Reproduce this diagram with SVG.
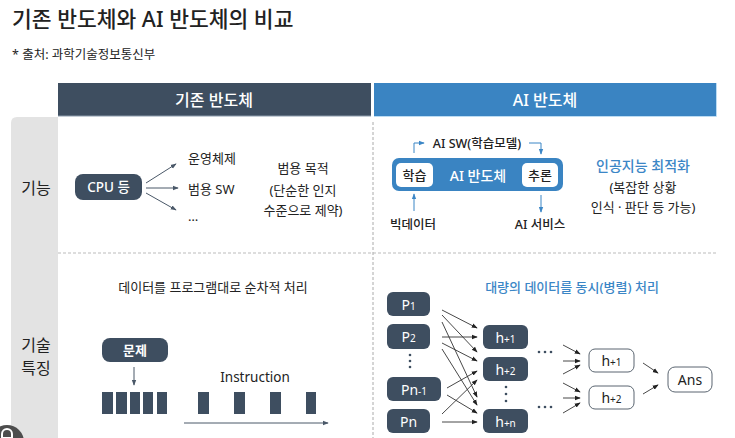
<svg xmlns="http://www.w3.org/2000/svg" width="735" height="438" viewBox="0 0 735 438">
<defs>
<style>
text{font-family:"Noto Sans","Noto Sans CJK KR",sans-serif;fill:#222;}
.c{text-anchor:middle;}
.w{fill:#fff;}
.b{fill:#3b86c6;}
.dark{fill:#3e4e60;}
.ln{stroke:#333;stroke-width:0.9;fill:none;marker-end:url(#ah);}
.lb{stroke:#3b86c6;stroke-width:1;fill:none;marker-end:url(#ahb);}
.lg{stroke:#4a5868;stroke-width:1;fill:none;marker-end:url(#ahg);}
.wb{fill:#fff;stroke:#5a6570;stroke-width:1;}
.bar{fill:#3e4e60;}
</style>
<marker id="ah" viewBox="0 0 8 8" refX="7" refY="4" markerWidth="6" markerHeight="6" orient="auto" markerUnits="userSpaceOnUse"><path d="M0,1 L8,4 L0,7 Z" fill="#222"/></marker>
<marker id="ahb" viewBox="0 0 8 8" refX="7" refY="4" markerWidth="6" markerHeight="6" orient="auto" markerUnits="userSpaceOnUse"><path d="M0,1 L8,4 L0,7 Z" fill="#3b86c6"/></marker>
<marker id="ahg" viewBox="0 0 8 8" refX="7" refY="4" markerWidth="6" markerHeight="6" orient="auto" markerUnits="userSpaceOnUse"><path d="M0,1 L8,4 L0,7 Z" fill="#4a5868"/></marker>
</defs>
<rect width="735" height="438" fill="#fff"/>

<g id="title">
<text x="12" y="27" font-size="21.5" font-weight="500" fill="#111">기존 반도체와 AI 반도체의 비교</text>
<text x="12" y="59" font-size="12.5">* 출처: 과학기술정보통신부</text>
</g>

<g id="headers">
<rect x="58" y="83" width="313" height="33" fill="#3e4e60"/>
<line x1="58" y1="116" x2="371" y2="116" stroke="#8a9aab" stroke-width="1"/>
<text x="214" y="106" font-size="16" font-weight="500" class="c w">기존 반도체</text>
<rect x="374" y="83" width="342" height="33" fill="#3a84c2"/>
<path d="M374,116.5 H716.5 V83" stroke="#bcdcf3" stroke-width="1" fill="none"/>
<text x="545" y="106" font-size="16" font-weight="500" class="c w">AI 반도체</text>
</g>

<g id="rowlabels">
<path d="M11,438 V123 Q11,117 17,117 H58 V438 Z" fill="#e3e3e3"/>
<text x="36" y="194" font-size="16" class="c">기능</text>
<text x="36" y="351" font-size="16" class="c">기술</text>
<text x="36" y="374" font-size="16" class="c">특징</text>
</g>

<g id="grid">
<line x1="373" y1="122" x2="373" y2="438" stroke="#aaa" stroke-width="1" stroke-dasharray="3,2"/>
<line x1="58" y1="253" x2="716" y2="253" stroke="#bbb" stroke-width="1" stroke-dasharray="3,2"/>
</g>

<g id="cpu">
<rect x="75" y="174" width="67" height="26" rx="8" class="dark"/>
<text x="108.5" y="192" font-size="13.5" font-weight="500" class="c w">CPU 등</text>
</g>
<g id="cpu-outputs">
<text x="188" y="163" font-size="13">운영체제</text>
<text x="188" y="194" font-size="13">범용 SW</text>
<text x="188" y="221" font-size="13">…</text>
<text x="303" y="173" font-size="13" class="c">범용 목적</text>
<text x="303" y="195" font-size="13" class="c">(단순한 인지</text>
<text x="303" y="215" font-size="13" class="c">수준으로 제약)</text>
</g>

<g id="ai-chip">
<rect x="392" y="158" width="171" height="33" rx="7" fill="#3a84c2"/>
<rect x="396" y="163" width="37" height="24" rx="5" fill="#fff"/>
<text x="414.5" y="180" font-size="13" font-weight="500" class="c">학습</text>
<rect x="522" y="163" width="36" height="24" rx="5" fill="#fff"/>
<text x="540" y="180" font-size="13" font-weight="500" class="c">추론</text>
<text x="478" y="181" font-size="14" font-weight="500" class="c w">AI 반도체</text>
</g>
<g id="ai-labels">
<text x="477" y="148" font-size="12.5" font-weight="500" class="c">AI SW(학습모델)</text>
<text x="413" y="229" font-size="12.5" font-weight="500" class="c">빅데이터</text>
<text x="540" y="229" font-size="12.5" font-weight="500" class="c">AI 서비스</text>
<text x="643" y="171" font-size="14" font-weight="500" class="c b">인공지능 최적화</text>
<text x="643" y="192" font-size="13" class="c">(복잡한 상황</text>
<text x="643" y="212" font-size="13" class="c">인식 · 판단 등 가능)</text>
</g>

<g id="seq">
<text x="213" y="292" font-size="13" class="c">데이터를 프로그램대로 순차적 처리</text>
<rect x="102" y="338" width="66" height="24" rx="8" class="dark"/>
<text x="135" y="355" font-size="13" font-weight="600" class="c w">문제</text>
<text x="255" y="382" font-size="13.5" class="c">Instruction</text>
<rect class="bar" x="102" y="392" width="11" height="22"/>
<rect class="bar" x="116" y="392" width="11" height="22"/>
<rect class="bar" x="130" y="392" width="10" height="22"/>
<rect class="bar" x="143" y="392" width="10" height="22"/>
<rect class="bar" x="157" y="392" width="10" height="22"/>
<rect class="bar" x="198" y="392" width="11" height="22"/>
<rect class="bar" x="234" y="392" width="11" height="22"/>
<rect class="bar" x="270" y="392" width="11" height="22"/>
<rect class="bar" x="306" y="392" width="10" height="22"/>
</g>

<g id="par">
<text x="572" y="292" font-size="13" font-weight="500" class="c b">대량의 데이터를 동시(병렬) 처리</text>
<g id="p1"><rect x="387" y="292" width="43" height="24" rx="6" class="dark"/><text x="408.5" y="310" font-size="14" class="c w">P<tspan font-size="10">1</tspan></text></g>
<g id="p2"><rect x="387" y="324" width="43" height="25" rx="6" class="dark"/><text x="408.5" y="342" font-size="14" class="c w">P<tspan font-size="10">2</tspan></text></g>
<g id="pdots" fill="#3e4e60"><circle cx="410" cy="355" r="1.3"/><circle cx="410" cy="361" r="1.3"/><circle cx="410" cy="367" r="1.3"/></g>
<g id="pn1"><rect x="387" y="377" width="54" height="24" rx="6" class="dark"/><text x="414" y="395" font-size="14" class="c w">Pn<tspan font-size="10">-1</tspan></text></g>
<g id="pn"><rect x="387" y="409" width="43" height="24" rx="6" class="dark"/><text x="408.5" y="427" font-size="14" class="c w">Pn</text></g>

<g id="h1"><rect x="483" y="325" width="45" height="24" rx="6" class="dark"/><text x="505.5" y="343" font-size="14" class="c w">h<tspan font-size="10">+1</tspan></text></g>
<g id="h2"><rect x="483" y="357" width="45" height="24" rx="6" class="dark"/><text x="505.5" y="375" font-size="14" class="c w">h<tspan font-size="10">+2</tspan></text></g>
<g id="hdots" fill="#3e4e60"><circle cx="506" cy="387" r="1.3"/><circle cx="506" cy="394" r="1.3"/><circle cx="506" cy="401" r="1.3"/></g>
<g id="hn"><rect x="483" y="409" width="45" height="24" rx="6" class="dark"/><text x="505.5" y="427" font-size="14" class="c w">h<tspan font-size="10">+n</tspan></text></g>

<g id="mdots" fill="#3e4e60">
<circle cx="539" cy="352" r="1.3"/><circle cx="545" cy="352" r="1.3"/><circle cx="551" cy="352" r="1.3"/>
<circle cx="539" cy="407" r="1.3"/><circle cx="545" cy="407" r="1.3"/><circle cx="551" cy="407" r="1.3"/>
</g>

<g id="o1"><rect x="589" y="349" width="45" height="23" rx="6" class="wb"/><text x="611.5" y="366" font-size="14" class="c" fill="#333">h<tspan font-size="10">+1</tspan></text></g>
<g id="o2"><rect x="589" y="386" width="45" height="23" rx="6" class="wb"/><text x="611.5" y="403" font-size="14" class="c" fill="#333">h<tspan font-size="10">+2</tspan></text></g>
<g id="ans"><rect x="668" y="367" width="44" height="25" rx="7" class="wb"/><text x="690" y="385" font-size="14" class="c" fill="#333">Ans</text></g>
</g>

<g id="connectors">
<line class="lg" x1="146" y1="183" x2="176" y2="164"/>
<line class="lg" x1="146" y1="188" x2="178" y2="188"/>
<line class="lg" x1="146" y1="193" x2="176" y2="210"/>

<polyline class="lb" points="414,153 414,143 424,143"/>
<polyline class="lb" points="529,143 541,143 541,154"/>
<line class="lb" x1="414" y1="211" x2="414" y2="194"/>
<line class="lb" x1="541" y1="195" x2="541" y2="212"/>

<line class="lg" x1="134" y1="367" x2="134" y2="385"/>
<line class="lg" x1="184" y1="423" x2="328" y2="423"/>

<line class="ln" x1="442" y1="310" x2="477" y2="328"/>
<line class="ln" x1="442" y1="315" x2="477" y2="352"/>
<line class="ln" x1="442" y1="322" x2="477" y2="397"/>
<line class="ln" x1="442" y1="337" x2="477" y2="337"/>
<line class="ln" x1="442" y1="343" x2="477" y2="361"/>
<line class="ln" x1="442" y1="349" x2="477" y2="405"/>
<line class="ln" x1="447" y1="388" x2="477" y2="371"/>
<line class="ln" x1="447" y1="395" x2="477" y2="413"/>
<line class="ln" x1="442" y1="414" x2="477" y2="380"/>
<line class="ln" x1="442" y1="422" x2="477" y2="422"/>

<line class="ln" x1="563" y1="345" x2="580" y2="354"/>
<line class="ln" x1="563" y1="361" x2="580" y2="361"/>
<line class="ln" x1="563" y1="374" x2="580" y2="365"/>
<line class="ln" x1="563" y1="383" x2="580" y2="392"/>
<line class="ln" x1="563" y1="398" x2="580" y2="398"/>
<line class="ln" x1="563" y1="413" x2="580" y2="403"/>
<line class="ln" x1="643" y1="363" x2="658" y2="373"/>
<line class="ln" x1="643" y1="394" x2="658" y2="385"/>
</g>

<g id="corner-icon">
<circle cx="7" cy="442" r="17" fill="#4d4d4d"/>
<path d="M2,434 a5,5 0 0 1 10,0 v4 h-10 z" fill="none" stroke="#fff" stroke-width="2"/>
</g>
</svg>
